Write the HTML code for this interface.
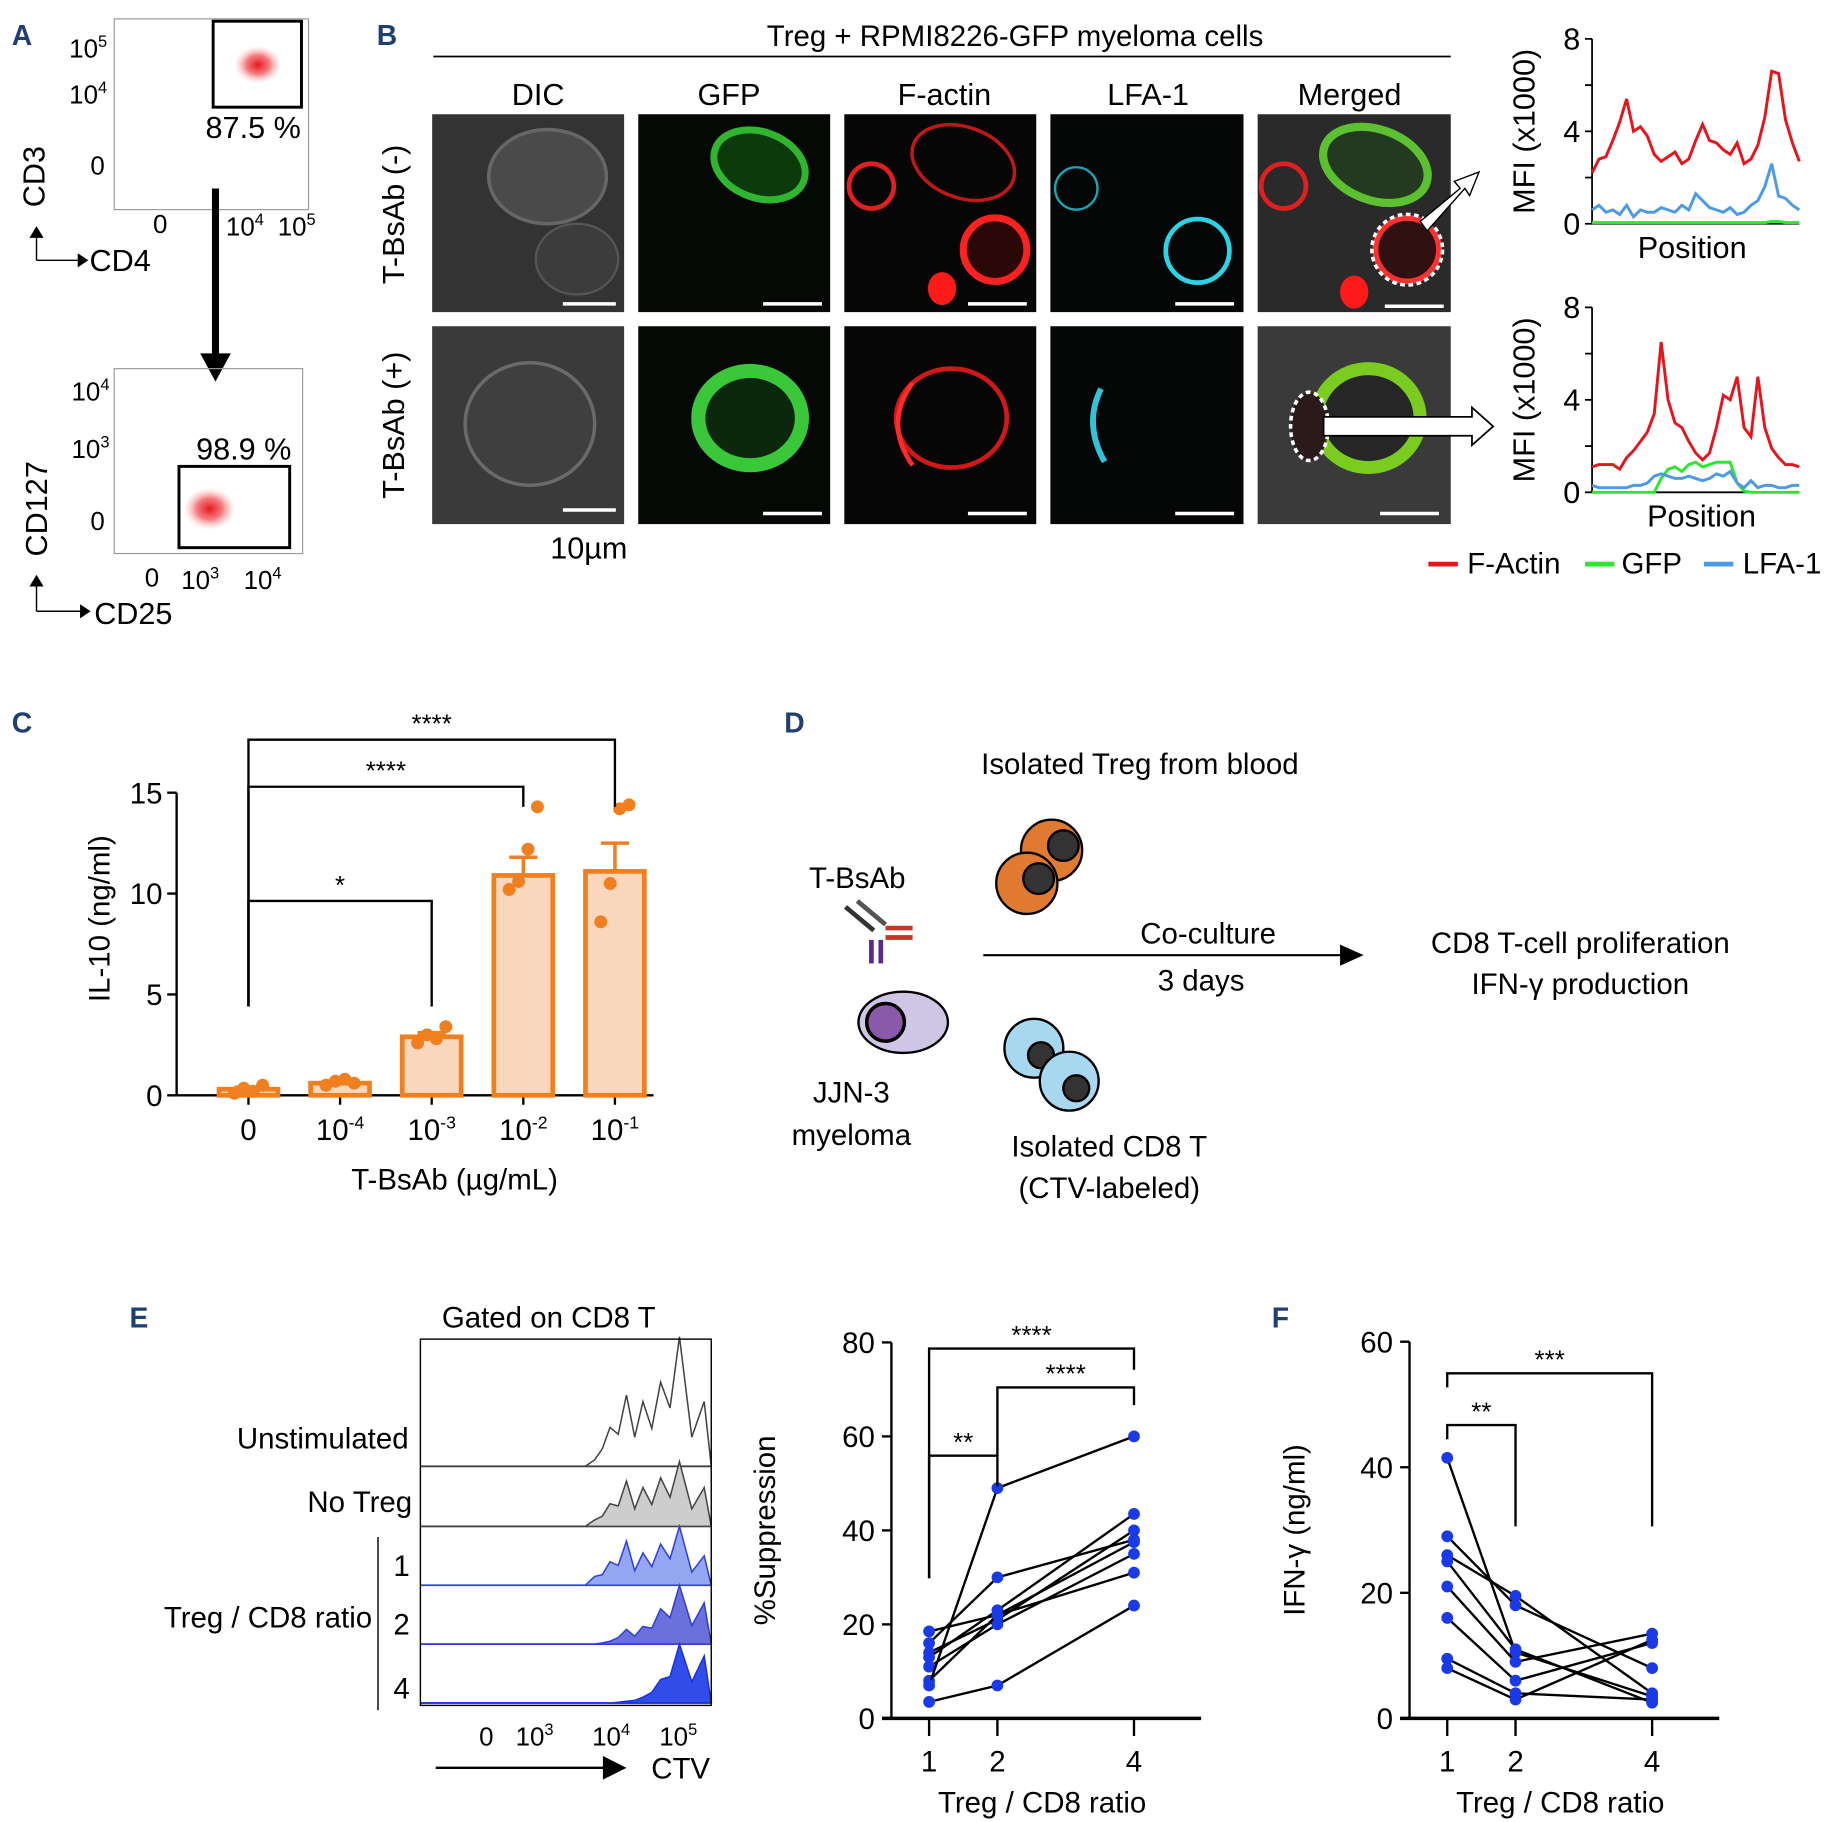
<!DOCTYPE html>
<html><head><meta charset="utf-8"><style>
html,body{margin:0;padding:0;background:#fff}
svg{display:block;font-family:"Liberation Sans",Arial,sans-serif}
</style></head><body>
<svg id="fig" width="1837" height="1822" viewBox="0 0 1560 1547" preserveAspectRatio="none" xmlns="http://www.w3.org/2000/svg">
<defs>
<radialGradient id="dot" cx="50%" cy="50%" r="50%"><stop offset="0" stop-color="#e8141c"/><stop offset="0.5" stop-color="#f05a5f" stop-opacity="0.8"/><stop offset="1" stop-color="#fbb" stop-opacity="0"/></radialGradient>
</defs>

<g font-weight="bold" fill="#1f3f73" font-size="24">
<text x="10" y="38">A</text>
<text x="320" y="38">B</text>
<text x="10" y="622">C</text>
<text x="666" y="622">D</text>
<text x="110" y="1127">E</text>
<text x="1080" y="1127">F</text>
</g>

<g font-size="22">
<rect x="97" y="16" width="165" height="162" fill="none" stroke="#999"/>
<ellipse cx="219" cy="55" rx="20" ry="16" fill="url(#dot)"/>
<rect x="181" y="18" width="75" height="73" fill="none" stroke="#000" stroke-width="2.5"/>
<text x="215" y="117" text-anchor="middle" font-size="26">87.5 %</text>
<text x="91" y="49" text-anchor="end">10<tspan font-size="14" dy="-9">5</tspan></text>
<text x="91" y="88" text-anchor="end">10<tspan font-size="14" dy="-9">4</tspan></text>
<text x="89" y="148" text-anchor="end">0</text>
<text x="136" y="198" text-anchor="middle">0</text>
<text x="208" y="200" text-anchor="middle">10<tspan font-size="14" dy="-9">4</tspan></text>
<text x="252" y="200" text-anchor="middle">10<tspan font-size="14" dy="-9">5</tspan></text>
<text transform="translate(38,150) rotate(-90)" text-anchor="middle" font-size="26">CD3</text>
<path d="M31,221 V200 M31,221 H66" stroke="#000" fill="none" stroke-width="1.2"/>
<path d="M25,202 L31,192 L37,202z M66,215 L75,221 L66,227z" fill="#000"/>
<text x="76" y="230" font-size="26">CD4</text>
<line x1="183" y1="160" x2="183" y2="304" stroke="#000" stroke-width="6"/>
<path d="M170,300 L196,300 L183,324z" fill="#000"/>
<rect x="97" y="313" width="160" height="157" fill="none" stroke="#999"/>
<ellipse cx="178" cy="432" rx="22" ry="18" fill="url(#dot)"/>
<rect x="152" y="396" width="94" height="69" fill="none" stroke="#000" stroke-width="2.5"/>
<text x="207" y="390" text-anchor="middle" font-size="26">98.9 %</text>
<text x="93" y="340" text-anchor="end">10<tspan font-size="14" dy="-9">4</tspan></text>
<text x="93" y="389" text-anchor="end">10<tspan font-size="14" dy="-9">3</tspan></text>
<text x="89" y="450" text-anchor="end">0</text>
<text x="129" y="498" text-anchor="middle">0</text>
<text x="170" y="500" text-anchor="middle">10<tspan font-size="14" dy="-9">3</tspan></text>
<text x="223" y="500" text-anchor="middle">10<tspan font-size="14" dy="-9">4</tspan></text>
<text transform="translate(40,432) rotate(-90)" text-anchor="middle" font-size="26">CD127</text>
<path d="M31,519 V496 M31,519 H68" stroke="#000" fill="none" stroke-width="1.2"/>
<path d="M25,498 L31,488 L37,498z M68,513 L77,519 L68,525z" fill="#000"/>
<text x="80" y="530" font-size="26">CD25</text>
</g>

<g>
<text x="862" y="39" text-anchor="middle" font-size="25">Treg  + RPMI8226-GFP myeloma cells</text>
<line x1="368" y1="48" x2="1232" y2="48" stroke="#000" stroke-width="1.5"/>
<g font-size="26" text-anchor="middle">
<text x="457" y="89">DIC</text>
<text x="619" y="89">GFP</text>
<text x="802" y="89">F-actin</text>
<text x="975" y="89">LFA-1</text>
<text x="1146" y="89">Merged</text>
</g>
<text transform="translate(343,182) rotate(-90)" text-anchor="middle" font-size="26">T-BsAb (-)</text>
<text transform="translate(343,361) rotate(-90)" text-anchor="middle" font-size="26">T-BsAb (+)</text>
<text x="500" y="474" text-anchor="middle" font-size="26">10µm</text>
<rect x="367" y="97" width="163" height="168" fill="#333"/>
<ellipse cx="465" cy="150" rx="50" ry="40" fill="#4a4a4a" stroke="#666" stroke-width="3"/>
<ellipse cx="490" cy="220" rx="35" ry="30" fill="#3c3c3c" stroke="#555" stroke-width="2"/>
<rect x="542" y="97" width="163" height="168" fill="#060806"/>
<ellipse cx="645" cy="140" rx="40" ry="28" fill="#0d3a0d" stroke="#2fb52f" stroke-width="6" transform="rotate(20 645 140)"/>
<rect x="717" y="97" width="163" height="168" fill="#060606"/>
<ellipse cx="818" cy="138" rx="45" ry="30" fill="none" stroke="#c01818" stroke-width="3" transform="rotate(20 818 138)"/>
<circle cx="740" cy="158" r="19" fill="none" stroke="#e02020" stroke-width="4"/>
<circle cx="845" cy="212" r="27" fill="#2a0808" stroke="#ff2020" stroke-width="6"/>
<ellipse cx="800" cy="245" rx="12" ry="14" fill="#ff1a1a"/>
<rect x="892" y="97" width="164" height="168" fill="#050707"/>
<circle cx="914" cy="160" r="18" fill="none" stroke="#1aa5b5" stroke-width="2"/>
<circle cx="1017" cy="213" r="27" fill="none" stroke="#2ad4e4" stroke-width="4"/>
<rect x="1068" y="97" width="164" height="168" fill="#2a2a2a"/>
<ellipse cx="1168" cy="140" rx="46" ry="30" fill="#233a20" stroke="#5cc030" stroke-width="7" transform="rotate(20 1168 140)"/>
<circle cx="1090" cy="158" r="19" fill="none" stroke="#e02020" stroke-width="4"/>
<circle cx="1195" cy="212" r="27" fill="#301010" stroke="#ff3030" stroke-width="5"/>
<circle cx="1195" cy="212" r="30" fill="none" stroke="#fff" stroke-width="3" stroke-dasharray="4 3"/>
<ellipse cx="1150" cy="248" rx="12" ry="14" fill="#ff1a1a"/>
<rect x="367" y="277" width="163" height="168" fill="#3a3a3a"/>
<ellipse cx="450" cy="360" rx="55" ry="52" fill="#3f3f3f" stroke="#6a6a6a" stroke-width="3"/>
<rect x="542" y="277" width="163" height="168" fill="#060806"/>
<ellipse cx="637" cy="355" rx="44" ry="40" fill="#0c280c" stroke="#3ac83a" stroke-width="12"/>
<rect x="717" y="277" width="163" height="168" fill="#060606"/>
<ellipse cx="808" cy="355" rx="47" ry="42" fill="none" stroke="#d01818" stroke-width="4"/>
<path d="M775,325 Q750,360 775,395" stroke="#ff2a2a" stroke-width="4" fill="none"/>
<rect x="892" y="277" width="164" height="168" fill="#050707"/>
<path d="M935,330 Q920,360 938,392" stroke="#30c4d8" stroke-width="5" fill="none"/>
<rect x="1068" y="277" width="164" height="168" fill="#3a3a3a"/>
<ellipse cx="1162" cy="355" rx="44" ry="42" fill="#262626" stroke="#7acc20" stroke-width="11"/>
<ellipse cx="1112" cy="362" rx="16" ry="29" fill="#2a1a1a" stroke="#fff" stroke-width="3" stroke-dasharray="4 3"/>
<g stroke="#fff" stroke-width="3">
<line x1="478" y1="258" x2="523" y2="258"/><line x1="648" y1="258" x2="698" y2="258"/><line x1="822" y1="258" x2="872" y2="258"/><line x1="998" y1="258" x2="1048" y2="258"/><line x1="1176" y1="260" x2="1226" y2="260"/>
<line x1="478" y1="433" x2="523" y2="433"/><line x1="648" y1="436" x2="698" y2="436"/><line x1="822" y1="436" x2="872" y2="436"/><line x1="998" y1="436" x2="1048" y2="436"/><line x1="1172" y1="436" x2="1222" y2="436"/>
</g>
<path d="M1206,188 L1240,160 L1235,154 L1256,146 L1248,166 L1244,160 L1212,196z" fill="#fff" stroke="#000" stroke-width="1.2"/>
<path d="M1124,354 H1250 V346 L1268,362 L1250,378 V370 H1124z" fill="#fff" stroke="#000" stroke-width="1.5"/>
</g>

<g font-size="25">
<text x="968" y="657" text-anchor="middle">Isolated Treg from blood</text>
<text x="728" y="754" text-anchor="middle">T-BsAb</text>
<g stroke-width="4" fill="none">
<line x1="718" y1="770" x2="742" y2="790" stroke="#333"/><line x1="728" y1="765" x2="752" y2="785" stroke="#555"/>
<line x1="752" y1="788" x2="775" y2="788" stroke="#c32"/><line x1="752" y1="796" x2="775" y2="796" stroke="#c32"/>
<line x1="740" y1="798" x2="740" y2="818" stroke="#5a2a8a"/><line x1="748" y1="798" x2="748" y2="818" stroke="#5a2a8a"/>
</g>
<ellipse cx="767" cy="868" rx="38" ry="26" fill="#cfc6e6" stroke="#000" stroke-width="2"/>
<circle cx="752" cy="868" r="16" fill="#8a5aa8" stroke="#000" stroke-width="3"/>
<text x="723" y="936" text-anchor="middle">JJN-3</text>
<text x="723" y="972" text-anchor="middle">myeloma</text>
<g stroke="#000" stroke-width="2">
<circle cx="893" cy="722" r="26" fill="#e07a30"/><circle cx="903" cy="718" r="13" fill="#333"/>
<circle cx="872" cy="750" r="26" fill="#e07a30"/><circle cx="882" cy="746" r="13" fill="#333"/>
</g>
<g stroke="#000" stroke-width="2">
<circle cx="878" cy="890" r="25" fill="#a8d8f0"/><circle cx="884" cy="896" r="11" fill="#333"/>
<circle cx="908" cy="918" r="25" fill="#a8d8f0"/><circle cx="914" cy="924" r="11" fill="#333"/>
</g>
<line x1="835" y1="811" x2="1140" y2="811" stroke="#000" stroke-width="1.8"/>
<path d="M1138,802 L1158,811 L1138,820z" fill="#000"/>
<text x="1026" y="801" text-anchor="middle">Co-culture</text>
<text x="1020" y="841" text-anchor="middle">3 days</text>
<text x="1342" y="809" text-anchor="middle">CD8 T-cell proliferation</text>
<text x="1342" y="844" text-anchor="middle">IFN-γ production</text>
<text x="942" y="982" text-anchor="middle">Isolated CD8 T</text>
<text x="942" y="1017" text-anchor="middle">(CTV-labeled)</text>
</g>

<g font-size="25">
<text x="466" y="1127" text-anchor="middle">Gated on CD8 T</text>
<g id="histG"></g>
<rect x="357" y="1137" width="247" height="311" fill="none" stroke="#000" stroke-width="1.2"/>
<text x="347" y="1230" text-anchor="end">Unstimulated</text>
<text x="350" y="1284" text-anchor="end">No Treg</text>
<line x1="321" y1="1305" x2="321" y2="1452" stroke="#000" stroke-width="1.2"/>
<text x="341" y="1338" text-anchor="middle">1</text>
<text x="341" y="1388" text-anchor="middle">2</text>
<text x="341" y="1442" text-anchor="middle">4</text>
<text x="316" y="1382" text-anchor="end">Treg / CD8 ratio</text>
<text x="413" y="1482" text-anchor="middle" font-size="22">0</text>
<text x="454" y="1482" text-anchor="middle" font-size="22">10<tspan font-size="14" dy="-9">3</tspan></text>
<text x="519" y="1482" text-anchor="middle" font-size="22">10<tspan font-size="14" dy="-9">4</tspan></text>
<text x="576" y="1482" text-anchor="middle" font-size="22">10<tspan font-size="14" dy="-9">5</tspan></text>
<line x1="370" y1="1501" x2="515" y2="1501" stroke="#000" stroke-width="2"/>
<path d="M512,1491 L532,1501 L512,1511z" fill="#000"/>
<text x="578" y="1510" text-anchor="middle">CTV</text>
</g>

<g id="chartC"></g>
<g id="profTop"></g>
<g id="profBot"></g>
<g id="chartE"></g>
<g id="chartF"></g>
<g font-size="25">
<line x1="1213" y1="479" x2="1238" y2="479" stroke="#e8141c" stroke-width="4"/><text x="1246" y="487">F-Actin</text>
<line x1="1346" y1="479" x2="1371" y2="479" stroke="#2ee62e" stroke-width="4"/><text x="1377" y="487">GFP</text>
<line x1="1447" y1="479" x2="1472" y2="479" stroke="#4a9ae8" stroke-width="4"/><text x="1480" y="487">LFA-1</text>
</g>
</svg>
<script>
const NS='http://www.w3.org/2000/svg';
const cCategories=['0','-4','-3','-2','-1'];
const cMeans=[0.3,0.6,2.9,10.9,11.1];
const cErrors=[0.1,0.1,0.2,0.9,1.4];
const cPoints=[[0.1,0.35,0.2,0.5],[0.5,0.7,0.8,0.6],[2.6,3.0,2.8,3.4],[10.2,10.6,12.2,14.3],[8.6,10.5,14.2,14.4]];
const cTicks=[0,5,10,15];
const profTopActin=[2.2,2.8,2.9,3.6,4.4,5.4,4.0,4.2,3.8,3.0,2.7,2.9,3.1,2.6,2.8,3.6,4.3,3.6,3.5,3.2,3.0,3.5,2.6,2.8,3.4,4.6,6.6,6.5,4.5,3.5,2.7];
const profTopLfa=[0.6,0.8,0.5,0.6,0.4,0.8,0.3,0.6,0.5,0.5,0.7,0.6,0.5,0.8,0.6,1.3,1.0,0.7,0.6,0.5,0.7,0.4,0.5,0.8,1.0,1.6,2.6,1.2,1.1,0.8,0.6];
const profTopGfp=[0.05,0.05,0.05,0.05,0.05,0.05,0.05,0.05,0.05,0.05,0.05,0.05,0.05,0.05,0.05,0.05,0.05,0.05,0.05,0.05,0.05,0.05,0.05,0.05,0.05,0.05,0.1,0.1,0.05,0.05,0.05];
const profBotActin=[1.1,1.2,1.2,1.2,1.0,1.5,1.8,2.2,2.6,3.4,6.5,4.0,3.0,2.8,2.2,1.7,1.4,1.7,2.8,4.2,4.0,5.0,2.8,2.4,5.0,2.8,1.9,1.5,1.2,1.2,1.1];
const profBotLfa=[0.3,0.2,0.2,0.2,0.2,0.2,0.3,0.3,0.4,0.7,0.8,0.7,0.6,0.6,0.7,0.6,0.5,0.6,0.8,0.7,0.9,0.4,0.2,0.5,0.2,0.3,0.3,0.2,0.2,0.3,0.3];
const profBotGfp=[0,0,0,0,0,0,0,0,0,0,0.6,1.0,1.1,0.9,1.2,1.3,1.1,1.2,1.3,1.3,1.3,0.4,0.05,0,0,0,0,0,0,0,0];
const histRows=['unstimulated','no-treg','ratio-1','ratio-2','ratio-4'];
const histPeaks=[[0.05,0.3,0.55,0.5,0.65,1.0,0.5],[0.1,0.35,0.7,0.6,0.75,1.0,0.6],[0.15,0.4,0.75,0.55,0.7,1.0,0.5],[0.0,0.05,0.25,0.3,0.6,1.0,0.7],[0,0,0.03,0.1,0.4,1.0,0.8]];
const histFills=['none','#c8c8c8','#8a9cf2','#5a62d8','#1a3ae8'];
const histStrokes=['#444','#444','#3040e0','#3040d0','#1a30e0'];
const ratioCats=[1,2,4];
const eSeries=[[18.5,22,31],[16,30,38],[14,21,40],[13,23,43.5],[11,20,35],[8,22,37.5],[7,49,60],[3.5,7,24]];
const eTicks=[0,20,40,60,80];
const fSeries=[[41.5,10.5,3.5],[29,18,8],[26,19.5,4],[25,11,2.5],[21,9,13.5],[16,6,12],[9.5,4,3],[8,3,12.5]];
const fTicks=[0,20,40,60];

function el(parent,tag,attrs,name,text){
  const e=document.createElementNS(NS,tag);
  for(const k in attrs)e.setAttribute(k,attrs[k]);
  
  
  if(text!==undefined)e.textContent=text;
  parent.appendChild(e);return e;
}

(function(){
  const g=document.getElementById('chartC');
  const y=v=>930-v*17.13, x=i=>211+i*77.8;
  el(g,'line',{x1:150,y1:y(0),x2:150,y2:y(15),stroke:'#000','stroke-width':2},'y-axis');
  el(g,'line',{x1:150,y1:y(0),x2:555,y2:y(0),stroke:'#000','stroke-width':2},'x-axis');
  cTicks.forEach(t=>{
    el(g,'line',{x1:142,y1:y(t),x2:150,y2:y(t),stroke:'#000','stroke-width':2},'y-tick');
    el(g,'text',{x:138,y:y(t)+9,'text-anchor':'end','font-size':25},'y-tick-label',String(t));
  });
  const offs=[-12,-4,4,12];
  cCategories.forEach((c,i)=>{
    el(g,'line',{x1:x(i),y1:y(0),x2:x(i),y2:y(0)+8,stroke:'#000','stroke-width':2},'x-tick');
    const t=el(g,'text',{x:x(i),y:968,'text-anchor':'middle','font-size':25},'x-tick-label');
    if(c==='0'){t.textContent='0';}else{t.textContent='10';const s=document.createElementNS(NS,'tspan');s.setAttribute('font-size',15);s.setAttribute('dy',-10);s.textContent=c;t.appendChild(s);}
    const m=cMeans[i],w=50;
    el(g,'rect',{x:x(i)-w/2,y:y(m),width:w,height:y(0)-y(m),fill:'#fbd8bd',stroke:'#f07f20','stroke-width':4},'bar-'+i);
    el(g,'path',{d:`M${x(i)},${y(m)} V${y(m+cErrors[i])} M${x(i)-12},${y(m+cErrors[i])} H${x(i)+12}`,stroke:'#f07f20','stroke-width':3,fill:'none'},'error-bar-'+i);
    cPoints[i].forEach((p,j)=>{
      el(g,'circle',{cx:x(i)+offs[j],cy:y(p),r:5.5,fill:'#f07f20'},'point');
    });
  });
  const br=[[0,2,765,'*',y(4.4),y(4.4)],[0,3,668,'****',y(4.4),y(15)+12],[0,4,628,'****',y(4.4),y(15)+12]];
  br.forEach(b=>{
    el(g,'path',{d:`M${x(b[0])},${b[4]} V${b[2]} H${x(b[1])} V${b[5]}`,stroke:'#000','stroke-width':2,fill:'none'},'significance-bracket');
    el(g,'text',{x:(x(b[0])+x(b[1]))/2,y:b[2]-6,'text-anchor':'middle','font-size':22},'significance-label',b[3]);
  });
  el(g,'text',{x:386,y:1010,'text-anchor':'middle','font-size':25},'x-axis-title','T-BsAb (µg/mL)');
  el(g,'text',{transform:'translate(93,780) rotate(-90)','text-anchor':'middle','font-size':25},'y-axis-title','IL-10 (ng/ml)');
})();

function profile(id,top,act,gfp,lfa,px){
  const g=document.getElementById(id);
  const x0=1352,x1=1528,y=v=>top+(8-v)*(157/8),x=i=>x0+i*(x1-x0)/(act.length-1);
  el(g,'line',{x1:x0,y1:y(0),x2:x0,y2:y(8),stroke:'#000','stroke-width':1.5},'y-axis');
  el(g,'line',{x1:x0,y1:y(0),x2:x1,y2:y(0),stroke:'#000','stroke-width':1.5},'x-axis');
  [0,2,4,6,8].forEach(t=>{
    el(g,'line',{x1:x0-6,y1:y(t),x2:x0,y2:y(t),stroke:'#000','stroke-width':1.5},'y-tick');
    if(t%4===0)el(g,'text',{x:x0-10,y:y(t)+9,'text-anchor':'end','font-size':26},'y-tick-label',String(t));
  });
  [[gfp,'#2ee62e','gfp-line'],[lfa,'#4a9ae8','lfa1-line'],[act,'#e8141c','f-actin-line']].forEach(s=>{
    el(g,'polyline',{points:s[0].map((v,i)=>x(i)+','+y(v)).join(' '),fill:'none',stroke:s[1],'stroke-width':2.5},s[2]);
  });
  el(g,'text',{x:px,y:y(0)+29,'text-anchor':'middle','font-size':26},'x-axis-title','Position');
  el(g,'text',{transform:`translate(1303,${y(4)}) rotate(-90)`,'text-anchor':'middle','font-size':26},'y-axis-title','MFI (x1000)');
}
profile('profTop',33,profTopActin,profTopGfp,profTopLfa,1437);
profile('profBot',261,profBotActin,profBotGfp,profBotLfa,1445);

(function(){
  const g=document.getElementById('histG');
  const base=[1245,1296,1346,1396,1446];
  const xs=[505,518,532,546,561,577,598];
  const H=[110,55,50,50,50];
  histRows.forEach((r,k)=>{
    const b=base[k];
    let d=`M357,${b} H${xs[0]-8}`;
    histPeaks[k].forEach((p,i)=>{ if(i>0){const mx=(xs[i-1]+xs[i])/2; d+=` L${mx},${b-p*H[k]*0.45} L${xs[i]},${b-p*H[k]}`;} else {d+=` L${xs[0]},${b-p*H[k]}`;} });
    d+=` L604,${b} H357`;
    el(g,'line',{x1:357,y1:b,x2:604,y2:b,stroke:histStrokes[k],'stroke-width':1.5},'baseline-'+r);
    el(g,'path',{d:d,fill:histFills[k],stroke:histStrokes[k],'stroke-width':1.3,'fill-opacity':k===0?0:0.9},'histogram-'+r);
  });
})();

function paired(id,ax,y0,ymax,pxPerUnit,ticks,series,brs,ytitle,ytx){
  const g=document.getElementById(id);
  const y=v=>y0-v*pxPerUnit;
  const xmap={1:ax+32,2:ax+90,4:ax+206};
  el(g,'line',{x1:ax,y1:y0,x2:ax,y2:y(ymax),stroke:'#000','stroke-width':2},'y-axis');
  el(g,'line',{x1:ax-8,y1:y0,x2:ax+263,y2:y0,stroke:'#000','stroke-width':3},'x-axis');
  ticks.forEach(t=>{
    el(g,'line',{x1:ax-8,y1:y(t),x2:ax,y2:y(t),stroke:'#000','stroke-width':2},'y-tick');
    el(g,'text',{x:ax-14,y:y(t)+9,'text-anchor':'end','font-size':25},'y-tick-label',String(t));
  });
  ratioCats.forEach(c=>{
    el(g,'line',{x1:xmap[c],y1:y0,x2:xmap[c],y2:y0+15,stroke:'#000','stroke-width':2},'x-tick');
    el(g,'text',{x:xmap[c],y:y0+45,'text-anchor':'middle','font-size':25},'x-tick-label',String(c));
  });
  series.forEach((s,k)=>{
    el(g,'polyline',{points:s.map((v,i)=>xmap[ratioCats[i]]+','+y(v)).join(' '),fill:'none',stroke:'#000','stroke-width':2},'donor-line-'+k);
    s.forEach((v,i)=>{
      el(g,'circle',{cx:xmap[ratioCats[i]],cy:y(v),r:5,fill:'#1a3ae8'},'donor-point');
    });
  });
  brs.forEach(b=>{
    el(g,'path',{d:`M${xmap[b[0]]},${b[3]} V${b[2]} H${xmap[b[1]]} V${b[4]}`,stroke:'#000','stroke-width':2,fill:'none'},'significance-bracket');
    el(g,'text',{x:(xmap[b[0]]+xmap[b[1]])/2,y:b[2]-4,'text-anchor':'middle','font-size':22},'significance-label',b[5]);
  });
  el(g,'text',{x:ax+128,y:y0+80,'text-anchor':'middle','font-size':25},'x-axis-title','Treg / CD8 ratio');
  el(g,'text',{transform:`translate(${ytx},${y(ymax/2)}) rotate(-90)`,'text-anchor':'middle','font-size':25},'y-axis-title',ytitle);
}
paired('chartE',757,1459,80,3.99,eTicks,eSeries,[[1,2,1236,1340,1262,'**'],[2,4,1178,1236,1193,'****'],[1,4,1145,1340,1163,'****']],'%Suppression',658);
paired('chartF',1197,1459,60,5.33,fTicks,fSeries,[[1,2,1210,1222,1296,'**'],[1,4,1166,1178,1296,'***']],'IFN-γ (ng/ml)',1108);
</script>
</body></html>
